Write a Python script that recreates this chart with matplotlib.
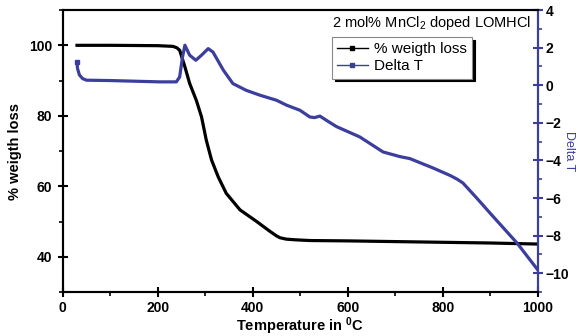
import matplotlib.pyplot as plt
from matplotlib.lines import Line2D
from matplotlib.ticker import MultipleLocator

plt.rcParams['font.family'] = ['Liberation Sans', 'DejaVu Sans']
plt.rcParams['mathtext.fontset'] = 'custom'
plt.rcParams['mathtext.rm'] = 'Liberation Sans'
plt.rcParams['mathtext.bf'] = 'Liberation Sans:bold'

# weight loss curve (left axis)
temp_w = [30, 100, 200, 232, 240, 246, 257, 267, 281, 292, 302, 313, 327,
          344, 373, 408, 436, 450, 457, 470, 490, 520, 600, 700, 800, 900,
          1000]
weight = [100, 100, 99.9, 99.7, 99.3, 98.6, 93.9, 89.2, 84.4, 79.7, 73.1,
          67.5, 62.7, 58.0, 53.3, 50.0, 47.2, 45.9, 45.4, 45.0, 44.8, 44.6,
          44.5, 44.3, 44.1, 43.9, 43.6]

# Delta T curve (right axis)
temp_d = [30, 31, 35, 42, 50, 100, 204, 239, 246, 252, 257, 267, 280, 292,
          306, 316, 338, 358, 386, 415, 450, 471, 499, 520, 530, 541, 560,
          576, 625, 674, 710, 730, 779, 815, 830, 842, 871, 899, 956, 1000]
delta_t = [1.22, 0.9, 0.55, 0.35, 0.27, 0.25, 0.18, 0.18, 0.44, 1.5, 2.13,
           1.6, 1.33, 1.6, 1.95, 1.77, 0.8, 0.09, -0.27, -0.53, -0.8, -1.06,
           -1.33, -1.69, -1.72, -1.64, -1.95, -2.2, -2.75, -3.55, -3.8,
           -3.9, -4.4, -4.8, -5.0, -5.2, -6.0, -6.8, -8.4, -9.84]

x_ticks = [0, 200, 400, 600, 800, 1000]
y_ticks = [40, 60, 80, 100]
y2_ticks = [-10, -8, -6, -4, -2, 0, 2, 4]

blue = '#3b3e9c'

fig = plt.figure(figsize=(5.81, 3.36), dpi=100)
ax = fig.add_axes([0.108, 0.131, 0.818, 0.839])
ax2 = ax.twinx()

ax.plot(temp_w, weight, color='black', lw=2.3, solid_joinstyle='round')
ax2.plot(temp_d, delta_t, color=blue, lw=2.3, solid_joinstyle='round',
         marker='s', markersize=2.5, markevery=[0])

ax.set_xlim(0, 1000)
ax.set_ylim(30, 110)
ax2.set_ylim(-11, 4)

ax.set_xticks(x_ticks)
ax.set_yticks(y_ticks)
ax2.set_yticks(y2_ticks)
ax.xaxis.set_minor_locator(MultipleLocator(100))
ax.yaxis.set_minor_locator(MultipleLocator(10))
ax2.yaxis.set_minor_locator(MultipleLocator(1))

for a in (ax, ax2):
    for s in a.spines.values():
        s.set_linewidth(1.5)
ax2.spines['right'].set_color(blue)

ax.tick_params(which='major', direction='inout', length=7, width=1.5,
               labelsize=10, pad=4)
ax.tick_params(which='minor', direction='out', length=3, width=1.2)
ax.tick_params(axis='x', which='major', pad=3)
ax.tick_params(axis='y', which='both', right=False)
ax2.tick_params(which='major', direction='inout', length=7, width=1.5,
                labelsize=10, color=blue, pad=2)
ax2.tick_params(which='minor', direction='out', length=3, width=1.2,
                color=blue)
for lbl in ax.get_xticklabels() + ax.get_yticklabels() + ax2.get_yticklabels():
    lbl.set_fontweight('bold')

ax.set_xlabel(r'Temperature in $\mathbf{^0}$C', fontsize=10.5,
              fontweight='bold', labelpad=0)
ax.set_ylabel('% weigth loss', fontsize=10.5, fontweight='bold', labelpad=5)
ax2.set_ylabel('Delta T', fontsize=9, color=blue, rotation=270,
               labelpad=4)

ax.text(0.985, 0.985, '2 mol% MnCl$_2$ doped LOMHCl', transform=ax.transAxes,
        ha='right', va='top', fontsize=10.5)

handles = [Line2D([], [], color='black', lw=1, marker='s', markersize=2.5),
           Line2D([], [], color=blue, lw=1, marker='s', markersize=2.5)]
leg = ax2.legend(handles, ['% weigth loss', 'Delta T'], loc='upper left',
                 bbox_to_anchor=(0.566, 0.905), fontsize=11, frameon=True,
                 fancybox=False, shadow={'color': 'black', 'alpha': 1},
                 edgecolor='#888888', handlelength=2.0, handletextpad=0.4,
                 borderpad=0.35, labelspacing=0.2, borderaxespad=0)
leg.get_frame().set_linewidth(0.8)

fig.savefig('out.png', dpi=100)
